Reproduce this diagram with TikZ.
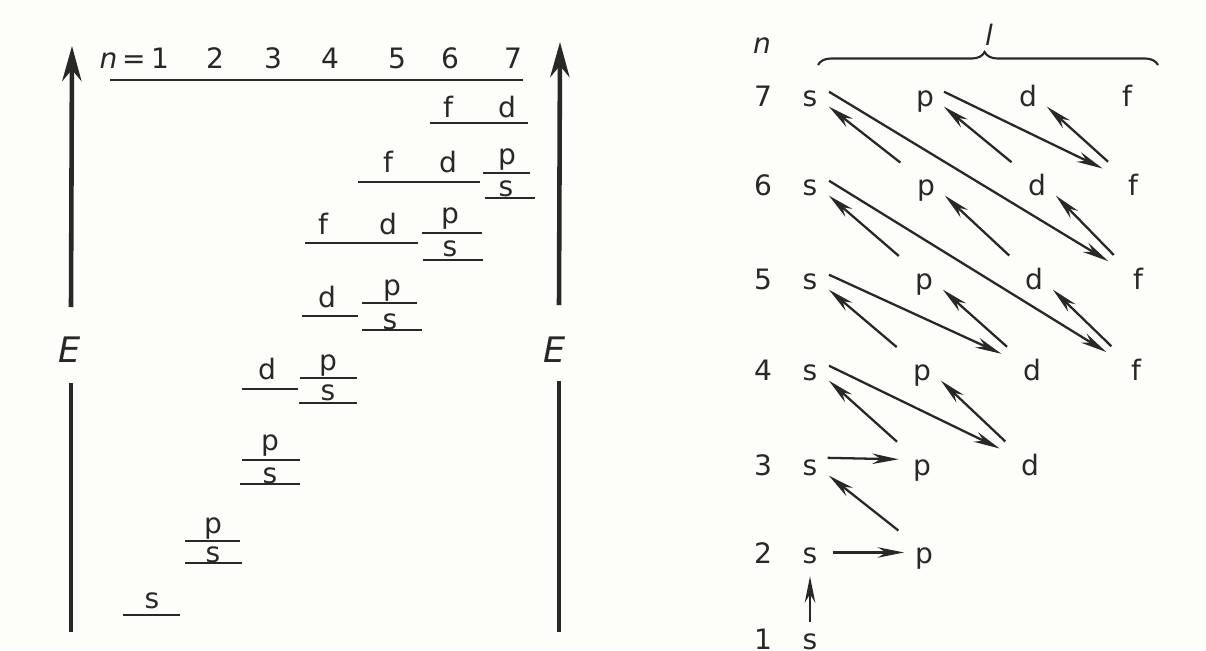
\documentclass[tikz,border=0pt]{standalone}
\usepackage{fontspec}
\setmainfont{DejaVu Sans}
\usepackage{tikz}
\usetikzlibrary{arrows.meta, decorations.pathreplacing}
\definecolor{myink}{RGB}{40,40,40}
\definecolor{mypaper}{RGB}{253,253,249}
\tikzset{
  axis/.style={line width=2.6pt, color=myink},
  lvl/.style={line width=1.3pt, color=myink},
  lbl/.style={anchor=base, inner sep=0pt, font=\fontsize{16}{19}\selectfont},
  elbl/.style={inner sep=0pt, font=\fontsize{20}{24}\selectfont\itshape},
  orb/.style={circle, minimum size=0.8cm, inner sep=0pt,
    text height=8.7pt, text depth=0pt, font=\fontsize{16}{19}\selectfont},
  arrow/.style={-{Stealth[length=15pt, width=6pt]}, line width=1.3pt, color=myink},
  uparrow/.style={arrow, shorten <=0.32cm},
  dnarrow/.style={arrow, shorten >=0.32cm},
  brace/.style={decorate, decoration={brace, amplitude=0.26cm, aspect=0.49},
    line width=1.2pt, color=myink}
}

\begin{document}
\begin{tikzpicture}[x=0.02cm, y=-0.02cm, color=myink]
  \useasboundingbox (0,0) rectangle (1206,650);
  \fill[mypaper] (0,0) rectangle (1206,650);

  % Energy axes (left and right)
  \coordinate (al1) at (71,632);
  \coordinate (al2) at (71,383);
  \coordinate (al3) at (71,307);
  \coordinate (al4) at (72,46);
  \node[elbl] (EL) at (70,350) {E};
  \draw[axis] (al1) -- (al2);
  \draw[axis, -{Stealth[length=20pt, width=11pt]}] (al3) -- (al4);

  \coordinate (ar1) at (559,632);
  \coordinate (ar2) at (559,381);
  \coordinate (ar3) at (559,305);
  \coordinate (ar4) at (560,42);
  \node[elbl] (ER) at (555,350) {E};
  \draw[axis] (ar1) -- (ar2);
  \draw[axis, -{Stealth[length=20pt, width=11pt]}] (ar3) -- (ar4);

  % Header n = 1 ... 7
  \node[lbl, anchor=base east] (hn) at (146,68) {\textit{n}\,=};
  \foreach \k/\x in {1/160, 2/215, 3/273, 4/330, 5/397, 6/450, 7/513}
    \node[lbl] (h\k) at (\x,68) {\k};
  \draw[line width=1.6pt] (110,80) -- (523,80);

  % Energy levels
  \foreach \xa/\xb/\y in {123/180/615, 185/242/563, 185/240/541, 240/300/484,
      242/300/460, 242/298/389, 299/357/403, 300/357/378, 302/358/316,
      362/422/330, 362/417/303, 305/418/243, 423/483/260, 422/482/233,
      358/480/182, 485/535/198, 483/530/173, 430/528/123}
    \draw[lvl] (\xa,\y) -- (\xb,\y);

  % Level labels
  \foreach \nm/\t/\x/\y in {1s/s/152/608, 2s/s/213/562, 2p/p/213/533,
      3s/s/270/483, 3p/p/270/450, 3d/d/267/379, 4s/s/328/400, 4p/p/328/370,
      4d/d/327/307, 5s/s/390/329, 5p/p/392/295, 4f/f/323/234, 5d/d/388/234,
      6s/s/450/256, 6p/p/450/223, 5f/f/388/172, 6d/d/448/172,
      7s/s/506/196, 7p/p/507/164, 6f/f/448/117, 7d/d/507/117}
    \node[lbl] (e\nm) at (\x,\y) {\t};

  % Right scheme: n and l
  \node[lbl, font=\fontsize{16}{19}\selectfont\itshape] (nq) at (762,53) {n};
  \draw[brace] (818,65) -- (1158,65);
  \node[lbl, font=\fontsize{16}{19}\selectfont\itshape] (lq) at (989,45) {l};

  % Rows of sublevels
  \foreach \k/\y in {1/642, 2/556, 3/468, 4/373, 5/282, 6/188, 7/99} {
    \node[orb] (n\k) at (763,\y) {\k};
    \node[orb] (s\k) at (810,\y) {s};
  }
  \foreach \k/\x/\y in {2/924/556, 3/922/468, 4/922/373, 5/924/282, 6/926/188, 7/925/99}
    \node[orb] (p\k) at (\x,\y) {p};
  \foreach \k/\x/\y in {3/1030/468, 4/1032/373, 5/1034/282, 6/1037/188, 7/1028/99}
    \node[orb] (d\k) at (\x,\y) {d};
  \foreach \k/\x/\y in {4/1136/373, 5/1138/282, 6/1133/188, 7/1127/99}
    \node[orb] (f\k) at (\x,\y) {f};

  % Filling order
  \draw[arrow] (s1.north) -- (s2.south);
  \draw[arrow, shorten <=0.06cm] (s2.10) -- (p2.170);
  \draw[arrow, shorten >=0.1cm] (s3.30) -- (p3.155);
  \foreach \a/\b in {p2/s3, p3/s4, d3/p4, p4/s5, d4/p5, p5/s6, f4/d5, d5/p6,
      p6/s7, f5/d6, d6/p7, f6/d7}
    \draw[uparrow] (\a.130) -- (\b.-22);
  \foreach \a/\b in {s4/d3, s5/d4, s6/f4, s7/f5, p7/f6}
    \draw[dnarrow] (\a.21) -- (\b.142);
\end{tikzpicture}
\end{document}
